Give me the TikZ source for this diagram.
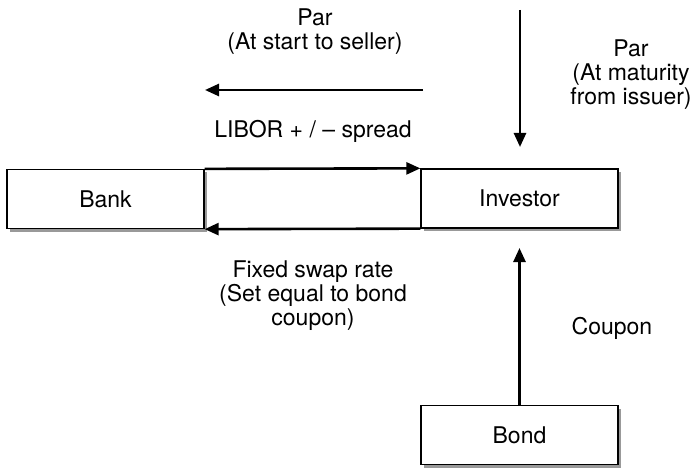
\documentclass[tikz,border=0pt]{standalone}
\usepackage{fontspec}
\setmainfont{TeX Gyre Heros}
\usetikzlibrary{arrows.meta,shadows}
\tikzset{
  party/.style={draw,line width=1.3pt,fill=white,minimum width=197pt,minimum height=59pt,
    inner sep=0pt,font=\fontsize{23}{24}\selectfont,
    drop shadow={shadow xshift=3pt,shadow yshift=-3pt,fill=black!40,opacity=1}},
  flow/.style={line width=2.6pt,-{Triangle[length=14pt,width=12pt]}},
  lbl/.style={align=center,font=\fontsize{23}{24}\selectfont,inner sep=0pt}
}
\begin{document}
\begin{tikzpicture}[x=1pt,y=-1pt]
\useasboundingbox (0,0) rectangle (699,468);
% boxes
\node[party] (bank) at (105.5,199) {Bank};
\node[party] (investor) at (519.5,198.5) {Investor};
\node[party] (bond) at (519.5,435) {Bond};
% free ends
\coordinate (parR) at (423,90);
\coordinate (parL) at (205,90);
\coordinate (matT) at (520,10);
\coordinate (matB) at (520,147);
\coordinate (cpnT) at (519.5,248);
% flows
\draw[flow] (parR) -- (parL);
\draw[flow] (matT) -- (matB);
\draw[flow] (bank.north east) -- (investor.north west);
\draw[flow] (investor.south west) -- (bank.south east);
\draw[flow] (bond.north) -- (cpnT);
% labels
\node[lbl] (parlbl) at (315,32) {Par\\(At start to seller)};
\node[lbl] (liborlbl) at (313,131) {LIBOR + / – spread};
\node[lbl] (matlbl) at (631,75) {Par\\(At maturity\\from issuer)};
\node[lbl] (fixlbl) at (313,296) {Fixed swap rate\\(Set equal to bond\\coupon)};
\node[lbl] (cpnlbl) at (612,328) {Coupon};
\end{tikzpicture}
\end{document}
